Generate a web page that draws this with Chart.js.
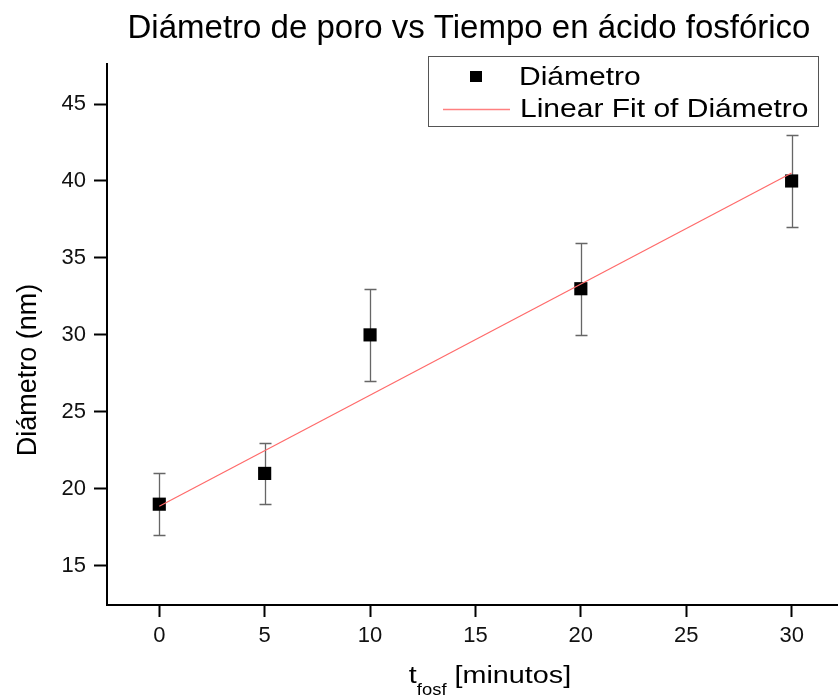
<!DOCTYPE html>
<html><head><meta charset="utf-8">
<script src="https://cdn.jsdelivr.net/npm/chart.js@4/dist/chart.umd.min.js"></script>
<style>html,body{margin:0;padding:0;background:#fff;}#wrap{width:838px;height:696px;position:relative;}</style>
</head><body><div id="wrap"><canvas id="c" width="838" height="696"></canvas></div>
<script>
const tiempos = [0, 5, 10, 20, 30];
const diametros = [19, 21, 30, 33, 40];
const errores = [2, 2, 3, 3, 3];
const ajusteX = [0, 30];
const ajusteY = [18.87, 40.52];
const titulo = 'Diámetro de poro vs Tiempo en ácido fosfórico';
const tituloY = 'Diámetro (nm)';
const serieNombre = 'Diámetro';
const ajusteNombre = 'Linear Fit of Diámetro';

const FONT = '"Liberation Sans", Arial, sans-serif';

function texto(ctx, s, x, y, size, sx, align) {
  ctx.save();
  ctx.font = size + 'px ' + FONT;
  const w = ctx.measureText(s).width * sx;
  let x0 = x;
  if (align === 'center') x0 = x - w / 2;
  ctx.translate(x0, y);
  ctx.scale(sx, 1);
  ctx.textAlign = 'left';
  ctx.fillText(s, 0, 0);
  ctx.restore();
  return w;
}
function ancho(ctx, s, size, sx) {
  ctx.save(); ctx.font = size + 'px ' + FONT;
  const w = ctx.measureText(s).width * sx; ctx.restore(); return w;
}

const errorBars = {
  id: 'errorBars',
  beforeDatasetsDraw(chart) {
    const ctx = chart.ctx, xs = chart.scales.x, ys = chart.scales.y;
    ctx.save();
    ctx.strokeStyle = '#666';
    ctx.lineWidth = 1.3;
    tiempos.forEach((t, i) => {
      const px = Math.round(xs.getPixelForValue(t)) + 0.5;
      const top = Math.round(ys.getPixelForValue(diametros[i] + errores[i])) + 0.5;
      const bot = Math.round(ys.getPixelForValue(diametros[i] - errores[i])) + 0.5;
      ctx.beginPath();
      ctx.moveTo(px, top); ctx.lineTo(px, bot);
      ctx.moveTo(px - 6, top); ctx.lineTo(px + 6, top);
      ctx.moveTo(px - 6, bot); ctx.lineTo(px + 6, bot);
      ctx.stroke();
    });
    ctx.restore();
  }
};

const textos = {
  id: 'textos',
  afterDraw(chart) {
    const ctx = chart.ctx;
    ctx.save();
    ctx.fillStyle = '#000';
    ctx.textBaseline = 'alphabetic';
    // title
    texto(ctx, titulo, 469, 38, 33, 1.0, 'center');
    // y title
    ctx.save();
    ctx.translate(36, 370);
    ctx.rotate(-Math.PI / 2);
    texto(ctx, tituloY, 0, 0, 27, 1.0, 'center');
    ctx.restore();
    // x title with subscript
    const sx = 1.25;
    const w1 = ancho(ctx, 't', 23, sx), ws = ancho(ctx, 'fosf', 16, 1.15), w2 = ancho(ctx, ' [minutos]', 23, sx);
    const x0 = 490 - (w1 + ws + w2) / 2;
    const yb = 683;
    texto(ctx, 't', x0, yb, 23, sx);
    texto(ctx, 'fosf', x0 + w1, yb + 12, 16, 1.15);
    texto(ctx, ' [minutos]', x0 + w1 + ws, yb, 23, sx);
    // legend
    ctx.strokeStyle = '#555';
    ctx.lineWidth = 1;
    ctx.strokeRect(428.5, 56.5, 390, 70);
    ctx.fillStyle = '#000';
    ctx.fillRect(470, 71, 12, 11);
    texto(ctx, serieNombre, 519, 85, 25, 1.2);
    ctx.strokeStyle = '#ff8080';
    ctx.lineWidth = 1.3;
    ctx.beginPath(); ctx.moveTo(443, 109.5); ctx.lineTo(510, 109.5); ctx.stroke();
    texto(ctx, ajusteNombre, 520, 117, 25, 1.2);
    ctx.restore();
  }
};

new Chart(document.getElementById('c'), {
  type: 'scatter',
  data: {
    datasets: [
      {
        label: serieNombre,
        data: tiempos.map((t, i) => ({x: t, y: diametros[i]})),
        pointStyle: 'rect',
        pointRadius: 9.3,
        pointHoverRadius: 9.3,
        backgroundColor: '#000',
        borderColor: '#000',
        borderWidth: 0,
        order: 2
      },
      {
        label: ajusteNombre,
        type: 'line',
        data: ajusteX.map((x, i) => ({x: x, y: ajusteY[i]})),
        borderColor: '#ff6a6a',
        borderWidth: 1.2,
        pointRadius: 0,
        fill: false,
        order: 1
      }
    ]
  },
  options: {
    responsive: false,
    animation: false,
    events: [],
    layout: {autoPadding: false, padding: {top: 64, left: 0, right: 0, bottom: 0}},
    plugins: {legend: {display: false}, title: {display: false}, tooltip: {enabled: false}},
    scales: {
      x: {
        type: 'linear', min: -2.48, max: 32.2,
        afterFit(s) { s.height = 91; },
        border: {display: true, color: '#000', width: 2},
        grid: {drawOnChartArea: false, drawTicks: true, tickLength: 12, tickColor: '#000', tickWidth: 2},
        ticks: {stepSize: 5, includeBounds: false, color: '#111', font: {family: FONT, size: 22}, padding: 6, maxRotation: 0}
      },
      y: {
        type: 'linear', min: 12.45, max: 47.6,
        afterFit(s) { s.width = 107; },
        border: {display: true, color: '#000', width: 2},
        grid: {drawOnChartArea: false, drawTicks: true, tickLength: 13, tickColor: '#000', tickWidth: 2},
        ticks: {stepSize: 5, includeBounds: false, color: '#111', font: {family: FONT, size: 22}, padding: 8}
      }
    }
  },
  plugins: [errorBars, textos]
});
</script></body></html>
